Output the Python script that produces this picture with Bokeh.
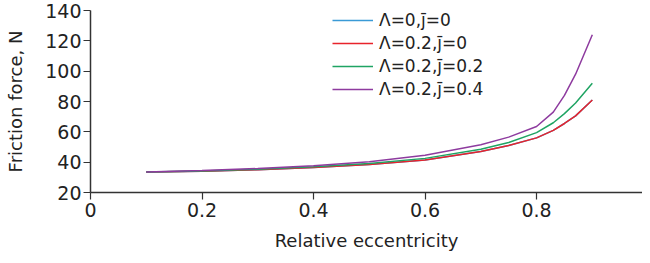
from bokeh.plotting import figure
from bokeh.models import Range1d, FixedTicker, Legend, LegendItem
from bokeh.embed import file_html
from bokeh.resources import INLINE

# Data
ecc = [0.1, 0.2, 0.3, 0.4, 0.5, 0.6, 0.7, 0.75, 0.8, 0.83, 0.85, 0.87, 0.9]
f_l0_j0 = [33.5, 34.0, 35.0, 36.5, 38.5, 41.5, 47.0, 51.0, 56.0, 61.0, 65.5, 70.5, 81.0]
f_l02_j0 = [33.5, 34.0, 35.0, 36.5, 38.5, 41.5, 47.0, 51.0, 56.0, 61.0, 65.5, 70.5, 81.0]
f_l02_j02 = [33.5, 34.2, 35.3, 37.0, 39.2, 42.5, 48.5, 53.0, 59.5, 66.0, 72.0, 79.0, 92.0]
f_l02_j04 = [33.5, 34.5, 35.8, 37.7, 40.3, 44.5, 51.5, 56.5, 63.5, 73.0, 84.0, 98.0, 124.0]
labels = ["\u039b=0,j\u0304=0", "\u039b=0.2,j\u0304=0", "\u039b=0.2,j\u0304=0.2", "\u039b=0.2,j\u0304=0.4"]
colors = ["#3a9ad6", "#e8232b", "#1fa463", "#8e3b9f"]
x_ticks = [0, 0.2, 0.4, 0.6, 0.8]
y_ticks = [20, 40, 60, 80, 100, 120, 140]

FONT = "DejaVu Sans"

p = figure(width=642, height=255, output_backend="svg", toolbar_location=None,
           x_range=Range1d(0, 0.99), y_range=Range1d(20, 140))
p.min_border_left = 90
p.min_border_right = 0
p.min_border_top = 10
p.min_border_bottom = 63
p.outline_line_color = None
p.grid.visible = False
p.background_fill_color = "white"
p.border_fill_color = "white"

series = [f_l0_j0, f_l02_j0, f_l02_j02, f_l02_j04]
renderers = []
for ys, c in zip(series, colors):
    r = p.line(ecc, ys, line_color=c, line_width=1.5)
    renderers.append(r)

for ax in (p.xaxis[0], p.yaxis[0]):
    ax.axis_line_color = "#333333"
    ax.axis_line_width = 1.5
    ax.major_tick_line_color = "#333333"
    ax.major_tick_line_width = 1.2
    ax.minor_tick_line_color = None
    ax.major_tick_out = 7
    ax.major_tick_in = 0
    ax.major_label_text_font = FONT
    ax.major_label_text_font_size = "19px"
    ax.major_label_text_color = "#222222"
    ax.axis_label_text_font = FONT
    ax.axis_label_text_font_style = "normal"
    ax.axis_label_text_font_size = "18px"
    ax.axis_label_text_color = "#222222"

p.xaxis[0].ticker = FixedTicker(ticks=x_ticks)
p.xaxis[0].major_label_overrides = {t: ("0" if t == 0 else f"{t:g}") for t in x_ticks}
p.xaxis[0].axis_label = "Relative eccentricity"
p.xaxis[0].major_label_standoff = 3
p.xaxis[0].axis_label_standoff = 10

p.yaxis[0].ticker = FixedTicker(ticks=y_ticks)
p.yaxis[0].axis_label = "Friction force, N"
p.yaxis[0].major_label_standoff = 2
p.yaxis[0].axis_label_standoff = 16

legend = Legend(items=[LegendItem(label=l, renderers=[r]) for l, r in zip(labels, renderers)],
                location=(242, 93), orientation="vertical")
legend.background_fill_alpha = 0
legend.border_line_color = None
legend.label_text_font = FONT
legend.label_text_font_size = "17px"
legend.label_text_color = "#222222"
legend.glyph_width = 41
legend.glyph_height = 20
legend.label_height = 20
legend.spacing = 3
legend.padding = 0
legend.margin = 0
legend.label_standoff = 6
p.add_layout(legend, "center")

open("out.html", "w").write(file_html(p, INLINE))
